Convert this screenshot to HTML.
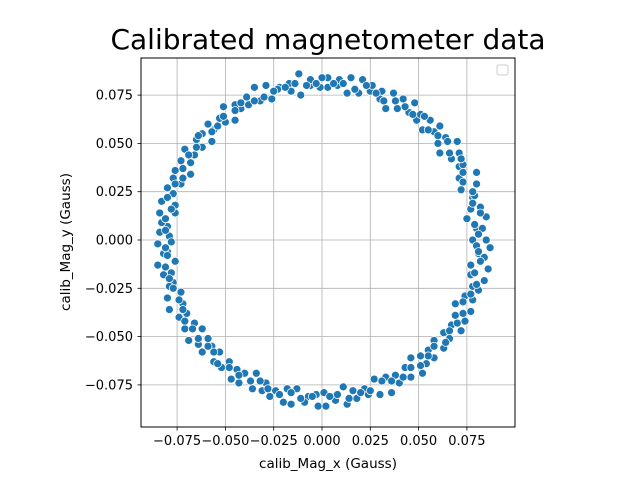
<!DOCTYPE html>
<html><head><meta charset="utf-8"><style>
html,body{margin:0;padding:0;background:#fff;}
svg{display:block;font-family:"DejaVu Sans","Liberation Sans",sans-serif;}
</style></head><body>
<svg id="chart" width="640" height="480" viewBox="0 0 640 480">
<rect width="640" height="480" fill="#fff"/>
<text x="328" y="49" font-size="28" text-anchor="middle" fill="#000">Calibrated magnetometer data</text>
<g id="grid"></g>
<g id="points"></g>
<rect x="141" y="58" width="374" height="369" fill="none" stroke="#000" stroke-width="1"/>
<g id="ticks"></g>
<text x="328" y="468" font-size="13.5" text-anchor="middle">calib_Mag_x (Gauss)</text>
<text transform="translate(70,242) rotate(-90)" font-size="13.5" text-anchor="middle">calib_Mag_y (Gauss)</text>
<rect x="497" y="65" width="11" height="10" rx="2" fill="#fff" stroke="#ccc" stroke-width="1"/>
</svg>
<script>
const xTicks = [-0.075,-0.05,-0.025,0,0.025,0.05,0.075];
const yTicks = [-0.075,-0.05,-0.025,0,0.025,0.05,0.075];
const xTickLabels = ["\u22120.075","\u22120.050","\u22120.025","0.000","0.025","0.050","0.075"];
const yTickLabels = ["\u22120.075","\u22120.050","\u22120.025","0.000","0.025","0.050","0.075"];
const magXa = [
.078,.085,.080,.083,.075,.085,.077,.082,.078,.079,.072,.080,.071,.080,.071,.073,.067,.071,.061,.070,.060,.064,.058,.061,.052,.056,.049,.051,.045,.048,.039,.042,.033,.037,.030,.031,.025,.026,.019,.021,.013,.015,.008,.009,.003,.003,
-.001,.000,-.006,-.006,-.011,-.012,-.016,-.017,-.022,-.023,-.026,-.029,-.032,-.035,-.038,-.039,-.042,-.045,-.045,-.051,-.050,-.053,-.056,-.059,-.057,-.062,-.062,-.065,-.066,-.071,-.068,-.073,-.068,-.076,-.073,-.077,-.077,-.080,-.076,-.083,-.076,-.084,-.080,-.083,-.079,-.084,
-.078,-.085,-.080,-.082,-.076,-.085,-.078,-.082,-.077,-.079,-.073,-.080,-.072,-.079,-.070,-.074,-.066,-.071,-.062,-.069,-.059,-.064,-.057,-.062,-.053,-.056,-.048,-.052,-.044,-.047,-.040,-.043,-.034,-.036,-.029,-.031,-.024,-.027,-.018,-.020,-.013,-.016,-.007,-.009,-.003,-.002,
.001,.002,.006,.007,.011,.013,.016,.018,.022,.024,.027,.030,.033,.036,.038,.040,.043,.046,.046,.052,.051,.054,.055,.058,.058,.063,.063,.066,.067,.072,.069,.074,.069,.077,.074,.078,.078,.081,.077,.084,.077,.086,.081,.084,.080,.087];
const magYa = [
0,0,.006,.006,.011,.012,.016,.017,.022,.023,.026,.029,.032,.035,.038,.039,.042,.045,.045,.051,.050,.053,.056,.059,.057,.062,.062,.065,.066,.071,.068,.073,.068,.076,.073,.077,.077,.080,.076,.083,.076,.084,.080,.083,.079,.084,
.079,.084,.080,.083,.075,.086,.077,.081,.079,.078,.073,.080,.072,.079,.070,.074,.068,.070,.062,.069,.061,.063,.057,.060,.051,.055,.048,.052,.044,.047,.040,.041,.034,.036,.029,.032,.024,.027,.018,.020,.014,.014,.007,.009,.002,.004,
-.001,-.002,-.006,-.007,-.011,-.013,-.017,-.018,-.022,-.024,-.027,-.030,-.033,-.036,-.038,-.040,-.043,-.046,-.046,-.052,-.051,-.054,-.055,-.058,-.058,-.063,-.063,-.066,-.067,-.072,-.069,-.074,-.069,-.077,-.074,-.078,-.078,-.081,-.077,-.084,-.077,-.085,-.081,-.084,-.080,-.086,
-.079,-.086,-.081,-.083,-.076,-.085,-.078,-.082,-.077,-.080,-.072,-.080,-.071,-.079,-.070,-.074,-.066,-.071,-.061,-.069,-.060,-.064,-.057,-.061,-.052,-.056,-.048,-.051,-.044,-.047,-.039,-.042,-.033,-.037,-.029,-.031,-.024,-.026,-.018,-.021,-.013,-.015,-.007,-.009,-.003,-.004];
const magXb = [
.081,.079,.082,.078,.078,.073,.073,.072,.066,.065,.060,.055,.053,.047,.043,.038,.032,.028,.023,.017,.011,.006,
-.003,-.008,-.014,-.019,-.025,-.030,-.035,-.042,-.045,-.051,-.054,-.057,-.064,-.065,-.069,-.072,-.072,-.076,-.080,-.078,-.081,-.081,
-.081,-.080,-.081,-.079,-.077,-.074,-.072,-.071,-.067,-.064,-.059,-.056,-.054,-.048,-.043,-.037,-.032,-.028,-.022,-.016,-.011,-.005,
.004,.008,.014,.020,.025,.031,.036,.042,.046,.051,.055,.058,.064,.066,.070,.073,.073,.077,.080,.079,.082,.081];
const magYb = [
.003,.008,.014,.019,.025,.030,.035,.042,.045,.051,.054,.057,.064,.065,.069,.072,.072,.076,.080,.078,.081,.081,
.081,.080,.081,.079,.077,.074,.072,.071,.067,.064,.059,.056,.054,.048,.044,.037,.032,.029,.022,.016,.011,.005,
-.004,-.008,-.014,-.020,-.025,-.031,-.036,-.042,-.046,-.051,-.055,-.058,-.064,-.066,-.070,-.073,-.073,-.077,-.080,-.079,-.082,-.081,
-.081,-.080,-.082,-.079,-.078,-.073,-.073,-.071,-.066,-.065,-.060,-.055,-.053,-.047,-.043,-.038,-.032,-.028,-.023,-.017,-.011,-.006];
const magX = magXa.concat(magXb);
const magY = magYa.concat(magYb);

const NS='http://www.w3.org/2000/svg';
const L=141,R=515,T=58,B=427;
function sx(v){return 322 + v/0.025*48.3;}
function sy(v){return 240 - v/0.025*48.3;}
function mk(tag,attrs,parent){const e=document.createElementNS(NS,tag);for(const k in attrs)e.setAttribute(k,attrs[k]);parent.appendChild(e);return e;}
const grid=document.getElementById('grid'),ticks=document.getElementById('ticks'),pts=document.getElementById('points');
xTicks.forEach((v,i)=>{
  const x=sx(v);
  const g=mk('line',{x1:x,x2:x,y1:T,y2:B,stroke:'#b0b0b0','stroke-width':0.8},grid);
  
  
  const t=mk('line',{x1:x,x2:x,y1:B,y2:B+3.5,stroke:'#000','stroke-width':0.8},ticks);
  
  
  const lb=mk('text',{x:x,y:B+18,'font-size':13,'text-anchor':'middle'},ticks);
  lb.textContent=xTickLabels[i];
  
  
});
yTicks.forEach((v,i)=>{
  const y=sy(v);
  const g=mk('line',{x1:L,x2:R,y1:y,y2:y,stroke:'#b0b0b0','stroke-width':0.8},grid);
  
  
  const t=mk('line',{x1:L-3.5,x2:L,y1:y,y2:y,stroke:'#000','stroke-width':0.8},ticks);
  
  
  const lb=mk('text',{x:L-8,y:y+4.5,'font-size':13,'text-anchor':'end'},ticks);
  lb.textContent=yTickLabels[i];
  
  
});
magX.forEach((v,i)=>{
  const c=mk('circle',{cx:sx(v),cy:sy(magY[i]),r:4,fill:'#1f77b4',stroke:'#fff','stroke-width':0.75},pts);
  
  
});
</script>
</body></html>
